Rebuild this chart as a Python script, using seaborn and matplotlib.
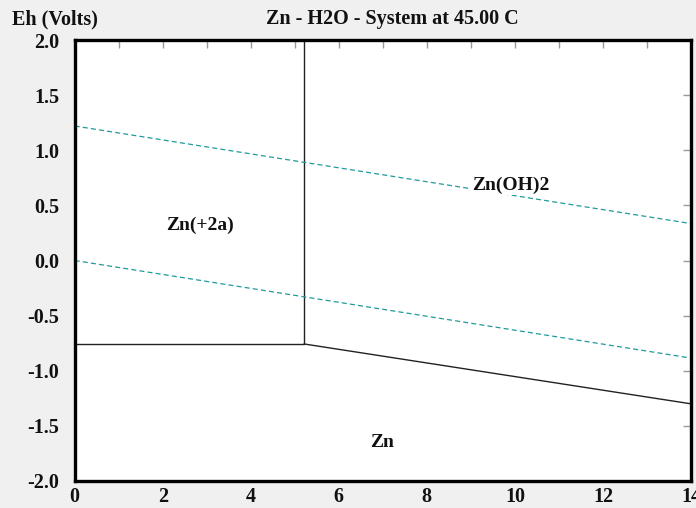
import matplotlib
matplotlib.use("Agg")
import matplotlib.pyplot as plt
from matplotlib.ticker import MultipleLocator
import seaborn as sns
import pandas as pd

sns.set_theme(style="white")
plt.rcParams["font.family"] = ["Liberation Serif", "DejaVu Serif"]
plt.rcParams["font.weight"] = "bold"
plt.rcParams["lines.scale_dashes"] = False

# Stability-field boundaries (pH, Eh in volts)
zn2_zn_ph = [0.0, 5.21]
zn2_zn_eh = [-0.757, -0.757]
zn2_hyd_ph = [5.21, 5.21]
zn2_hyd_eh = [-0.757, 2.0]
hyd_zn_ph = [5.21, 14.0]
hyd_zn_eh = [-0.757, -1.30]

# Water stability limits
o2_ph = [0.0, 14.0]
o2_eh = [1.22, 0.335]
h2_ph = [0.0, 14.0]
h2_eh = [0.0, -0.885]

# Species labels
species = ["Zn(+2a)", "Zn(OH)2", "Zn"]
species_ph = [2.85, 9.9, 6.99]
species_eh = [0.32, 0.685, -1.65]

yticks = [2.0, 1.5, 1.0, 0.5, 0.0, -0.5, -1.0, -1.5, -2.0]

title = "Zn - H2O - System at 45.00 C"
ylabel = "Eh (Volts)"

fig = plt.figure(figsize=(6.96, 5.08), dpi=100, facecolor="#f0f0f0")
ax = fig.add_axes([74.7 / 696, 27 / 508, (691 - 74.7) / 696, (481 - 40) / 508])
ax.set_facecolor("white")

solid = dict(color="#222222", linewidth=1.0)
for xs, ys in [(zn2_zn_ph, zn2_zn_eh), (zn2_hyd_ph, zn2_hyd_eh), (hyd_zn_ph, hyd_zn_eh)]:
    sns.lineplot(data=pd.DataFrame({"pH": xs, "Eh": ys}), x="pH", y="Eh",
                 ax=ax, sort=False, estimator=None, **solid)

dashed = dict(color="#1f9a9a", linewidth=0.9, linestyle=(0, (3.6, 2.3)))
for xs, ys in [(o2_ph, o2_eh), (h2_ph, h2_eh)]:
    sns.lineplot(data=pd.DataFrame({"pH": xs, "Eh": ys}), x="pH", y="Eh",
                 ax=ax, sort=False, estimator=None, **dashed)

for name, px, py in zip(species, species_ph, species_eh):
    bg = dict(facecolor="white", edgecolor="none", pad=1.0) if name == "Zn(OH)2" else None
    ax.text(px, py, name, ha="center", va="center", fontsize=14,
            fontweight="bold", color="#111111", bbox=bg, zorder=5)

ax.set_xlim(0, 14)
ax.set_ylim(-2.0, 2.0)
ax.set_xlabel("")
ax.set_ylabel("")
ax.xaxis.set_major_locator(MultipleLocator(2))
ax.xaxis.set_minor_locator(MultipleLocator(1))
ax.set_yticks(yticks)
ax.set_yticklabels([f"{v:.1f}" for v in yticks])

ax.tick_params(which="both", direction="in", length=6, width=1.0, color="#999999",
               top=True, right=True, labelsize=14.5, labelcolor="#111111")
ax.tick_params(axis="x", which="both", pad=4.5)
ax.tick_params(axis="y", which="both", pad=11)
for lbl in ax.get_xticklabels() + ax.get_yticklabels():
    lbl.set_fontweight("bold")

for sp in ax.spines.values():
    sp.set_visible(True)
    sp.set_color("black")
    sp.set_linewidth(2.4)

fig.text(392 / 696, 1 - 19 / 508, title, ha="center", va="center",
         fontsize=14.5, fontweight="bold", color="#111111")
fig.text(12 / 696, 1 - 19 / 508, ylabel, ha="left", va="center",
         fontsize=14.5, fontweight="bold", color="#111111")

fig.savefig("out.png", dpi=100, facecolor=fig.get_facecolor())
